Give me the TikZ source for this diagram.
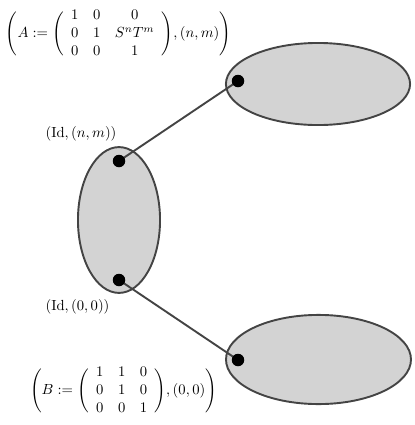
\documentclass[tikz,border=0pt]{standalone}
\usetikzlibrary{shapes.geometric}
\usepackage{amsmath}
\usepackage{xcolor}
\definecolor{rimgray}{RGB}{68,68,68}
\definecolor{blobgray}{RGB}{211,211,211}

\begin{document}
\begin{tikzpicture}[
  x=0.024cm, y=-0.024cm,
  blob/.style={
    ellipse, draw=rimgray, fill=blobgray, line width=1.3pt, inner sep=0pt
  },
  pin/.style={circle, fill=black, minimum size=0.3cm, inner sep=0pt},
  link/.style={line width=1.3pt, color=rimgray},
  tag/.style={inner sep=0pt, font=\normalsize}
]
  \useasboundingbox (0,0) rectangle (415,425);

  % the three sets
  \node[blob, minimum width=1.97cm, minimum height=3.5cm]  (base) at (119,220) {};
  \node[blob, minimum width=4.42cm, minimum height=1.97cm] (upA)  at (318,84)  {};
  \node[blob, minimum width=4.44cm, minimum height=2.14cm] (upB)  at (318.5,359.5) {};

  \coordinate (pnm) at (119,161);
  \coordinate (p00) at (119,280);
  \coordinate (qA)  at (238,81);
  \coordinate (qB)  at (238,360);

  \draw[link] (pnm) -- (qA);
  \draw[link] (p00) -- (qB);

  \node[pin] (dnm) at (pnm) {};
  \node[pin] (d00) at (p00) {};
  \node[pin] (dA)  at (qA)  {};
  \node[pin] (dB)  at (qB)  {};

  \node[tag] (lnm) at (81,134)  {$(\mathrm{Id},(n,m))$};
  \node[tag] (l00) at (77.5,307) {$(\mathrm{Id},(0,0))$};

  \node[tag] (matA) at (118.5,34)
    {$\Bigg(A:=\Bigg(\begin{array}{ccc} 1 & 0 & 0\\ 0 & 1 & S^nT^m\\ 0 & 0 & 1\end{array}\Bigg),(n,m)\Bigg)$};
  \node[tag] (matB) at (123.5,391)
    {$\Bigg(B:=\Bigg(\begin{array}{ccc} 1 & 1 & 0\\ 0 & 1 & 0\\ 0 & 0 & 1\end{array}\Bigg),(0,0)\Bigg)$};
\end{tikzpicture}
\end{document}
